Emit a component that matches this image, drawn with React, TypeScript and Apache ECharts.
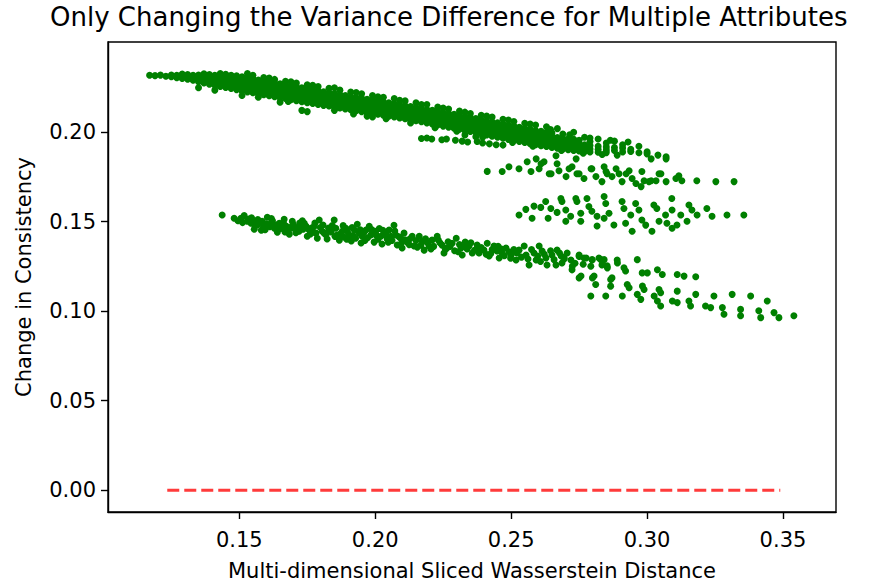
import React, { useEffect, useRef } from "react";
import * as echarts from "echarts";

// ---------- axis / tick values ----------
const xTicks = [0.15, 0.2, 0.25, 0.3, 0.35];
const yTicks = [0, 0.05, 0.1, 0.15, 0.2];
const xExtent = [0.1017, 0.3695];
const yExtent = [-0.0122, 0.2504];

const titleText = "Only Changing the Variance Difference for Multiple Attributes";
const xLabel = "Multi-dimensional Sliced Wasserstein Distance";
const yLabel = "Change in Consistency";

// ---------- upper band (rows: x, y values read at that x) ----------
const upperBandA = [
  [0.117, 0.2318],
  [0.119, 0.2316],
  [0.121, 0.2319],
  [0.123, 0.2313],
  [0.125, 0.231, 0.232],
  [0.127, 0.2304, 0.2318],
  [0.129, 0.23, 0.2314, 0.2325],
  [0.131, 0.2296, 0.231, 0.2322],
  [0.133, 0.229, 0.2305, 0.2318],
  [0.135, 0.2282, 0.23, 0.232, 0.2248],
  [0.137, 0.2275, 0.2295, 0.2312, 0.2326],
  [0.139, 0.2268, 0.2286, 0.2305, 0.2322],
  [0.141, 0.2262, 0.228, 0.23, 0.2318, 0.2235],
  [0.143, 0.2255, 0.2275, 0.2294, 0.2312, 0.2328],
  [0.145, 0.225, 0.227, 0.2288, 0.2306, 0.2324],
  [0.147, 0.2244, 0.2262, 0.2282, 0.23, 0.2318],
  [0.149, 0.2238, 0.2258, 0.2276, 0.2296, 0.2315],
  [0.151, 0.223, 0.225, 0.227, 0.229, 0.231, 0.2205],
  [0.153, 0.2225, 0.2245, 0.2265, 0.2284, 0.2304],
  [0.155, 0.222, 0.224, 0.2258, 0.2278, 0.2298, 0.2318],
  [0.157, 0.2215, 0.2234, 0.2252, 0.2272, 0.2292],
  [0.159, 0.221, 0.2228, 0.2248, 0.2266, 0.2286, 0.2306],
  [0.161, 0.2204, 0.2222, 0.2242, 0.226, 0.228],
  [0.163, 0.2198, 0.2218, 0.2236, 0.2256, 0.2275, 0.2295],
  [0.165, 0.2192, 0.2212, 0.223, 0.225, 0.227, 0.2168],
];

const upperBandB = [
  [0.167, 0.2188, 0.2206, 0.2226, 0.2245, 0.2265, 0.2285],
  [0.169, 0.2182, 0.22, 0.222, 0.224, 0.226],
  [0.171, 0.2176, 0.2195, 0.2215, 0.2234, 0.2254, 0.2275],
  [0.173, 0.217, 0.219, 0.2208, 0.2228, 0.2248, 0.2122],
  [0.175, 0.2165, 0.2185, 0.2204, 0.2224, 0.2244, 0.2265, 0.2115],
  [0.177, 0.216, 0.218, 0.2198, 0.2218, 0.2238],
  [0.179, 0.2155, 0.2175, 0.2194, 0.2212, 0.2232, 0.2255],
  [0.181, 0.215, 0.217, 0.2188, 0.2206, 0.2226],
  [0.183, 0.2146, 0.2164, 0.2183, 0.2202, 0.2222, 0.2245],
  [0.185, 0.214, 0.2158, 0.2178, 0.2196, 0.2216],
  [0.187, 0.2135, 0.2153, 0.2172, 0.219, 0.221, 0.2235],
  [0.189, 0.213, 0.2148, 0.2166, 0.2185, 0.2205],
  [0.191, 0.2125, 0.2143, 0.2162, 0.218, 0.22, 0.2225],
  [0.193, 0.212, 0.2138, 0.2156, 0.2175, 0.2194],
  [0.195, 0.2115, 0.2133, 0.215, 0.217, 0.219, 0.2215],
  [0.197, 0.211, 0.2128, 0.2146, 0.2165, 0.2184, 0.209],
  [0.199, 0.2105, 0.2122, 0.214, 0.216, 0.218, 0.2205, 0.2085],
  [0.201, 0.21, 0.2118, 0.2136, 0.2155, 0.2175],
  [0.203, 0.2095, 0.2112, 0.213, 0.215, 0.217, 0.2195],
  [0.205, 0.209, 0.2108, 0.2126, 0.2145, 0.2165],
  [0.207, 0.2085, 0.2102, 0.212, 0.214, 0.216, 0.2188],
  [0.209, 0.208, 0.2098, 0.2115, 0.2134, 0.2155],
  [0.211, 0.2075, 0.2092, 0.211, 0.2128, 0.2148, 0.2175],
  [0.213, 0.207, 0.2088, 0.2105, 0.2124, 0.2144],
  [0.215, 0.2064, 0.2082, 0.21, 0.2118, 0.2138, 0.2165],
];

const upperBandC = [
  [0.217, 0.2058, 0.2076, 0.2095, 0.2113, 0.2132],
  [0.219, 0.2052, 0.207, 0.209, 0.2108, 0.2127, 0.2155],
  [0.221, 0.2046, 0.2064, 0.2084, 0.2102, 0.2122],
  [0.223, 0.204, 0.2058, 0.2078, 0.2096, 0.2116, 0.214],
  [0.225, 0.2034, 0.2052, 0.2072, 0.209, 0.211],
  [0.227, 0.2028, 0.2046, 0.2066, 0.2085, 0.2105, 0.213],
  [0.229, 0.2022, 0.204, 0.206, 0.208, 0.21],
  [0.231, 0.2016, 0.2034, 0.2054, 0.2074, 0.2094, 0.2118],
  [0.233, 0.201, 0.2028, 0.2048, 0.2068, 0.2088, 0.1985],
  [0.235, 0.2004, 0.2022, 0.2042, 0.2062, 0.2082, 0.2105],
  [0.237, 0.1998, 0.2016, 0.2036, 0.2056, 0.2076, 0.1975],
  [0.239, 0.1992, 0.201, 0.203, 0.205, 0.207, 0.2095],
  [0.241, 0.1985, 0.2004, 0.2024, 0.2044, 0.2064],
  [0.243, 0.1978, 0.1998, 0.2018, 0.2038, 0.2058, 0.2085],
  [0.245, 0.1972, 0.1992, 0.2012, 0.2032, 0.2052],
  [0.247, 0.1966, 0.1986, 0.2006, 0.2026, 0.2046, 0.2072],
  [0.249, 0.196, 0.198, 0.2, 0.202, 0.204],
  [0.251, 0.1954, 0.1974, 0.1994, 0.2014, 0.2034, 0.206],
  [0.253, 0.1948, 0.1968, 0.1988, 0.2008, 0.2028],
  [0.255, 0.1942, 0.1962, 0.1982, 0.2002, 0.2022, 0.205],
  [0.257, 0.1936, 0.1956, 0.1976, 0.1996, 0.2016],
  [0.259, 0.193, 0.195, 0.197, 0.199, 0.201, 0.204],
  [0.261, 0.1925, 0.1945, 0.1965, 0.1985, 0.2005],
  [0.263, 0.192, 0.194, 0.196, 0.198, 0.2, 0.203],
  [0.265, 0.1915, 0.1935, 0.1955, 0.1975, 0.1995],
];

const upperBandD = [
  [0.267, 0.191, 0.193, 0.195, 0.197, 0.202],
  [0.269, 0.1906, 0.1926, 0.1946, 0.1966, 0.199],
  [0.271, 0.1902, 0.1922, 0.1942, 0.1962],
  [0.273, 0.1898, 0.1918, 0.1938, 0.196, 0.2],
  [0.275, 0.1895, 0.1914, 0.1934, 0.1955],
  [0.277, 0.1892, 0.191, 0.193, 0.1972],
  [0.279, 0.189, 0.1906, 0.1926, 0.1948],
  [0.282, 0.1888, 0.1904, 0.1922, 0.1962],
  [0.285, 0.1886, 0.19, 0.1918, 0.194],
  [0.288, 0.1898, 0.1915, 0.195],
  [0.291, 0.189, 0.1912, 0.193],
  [0.294, 0.1892, 0.1905],
  [0.297, 0.1885, 0.1922],
  [0.3, 0.189, 0.1879],
  [0.3015, 0.1851],
  [0.304, 0.1872],
  [0.307, 0.1863, 0.1851],
];

// scattered points on the ragged edges of the upper band
const upperEdges = [
  [0.153, 0.2328], [0.161, 0.2302], [0.169, 0.2282], [0.177, 0.2262],
  [0.185, 0.2248], [0.193, 0.2222], [0.201, 0.2198], [0.209, 0.2178],
  [0.217, 0.2155], [0.225, 0.2135], [0.233, 0.2112], [0.241, 0.209],
  [0.249, 0.2068], [0.257, 0.2045], [0.2645, 0.2015], [0.2715, 0.1985],
  [0.279, 0.1968], [0.2865, 0.1955], [0.293, 0.1945],
  [0.157, 0.2195], [0.168, 0.2172], [0.185, 0.2122], [0.192, 0.2102],
  [0.204, 0.2075], [0.213, 0.2052], [0.222, 0.2025], [0.23, 0.2005],
  [0.2395, 0.1972], [0.2505, 0.1942], [0.258, 0.1922], [0.2685, 0.1898],
  [0.2765, 0.1882], [0.2835, 0.1875], [0.289, 0.1872],
];

// short branch just under the upper band (~0.196)
const upperBranch = [
  [0.217, 0.1965], [0.219, 0.1968], [0.2208, 0.1962], [0.2245, 0.1958],
  [0.2262, 0.1962], [0.2295, 0.1955], [0.232, 0.195], [0.234, 0.1945],
  [0.2375, 0.1948], [0.2395, 0.194], [0.242, 0.1935], [0.2445, 0.193],
  [0.247, 0.1928],
];

// branch around 0.175
const thirdBranch = [
  [0.2412, 0.1781], [0.2467, 0.178], [0.2492, 0.1807], [0.2529, 0.1796],
  [0.2559, 0.1835], [0.2573, 0.178], [0.2592, 0.1851], [0.261, 0.1824],
  [0.2603, 0.1796], [0.2621, 0.1835], [0.264, 0.1768], [0.2647, 0.1768],
  [0.2665, 0.1868], [0.2669, 0.1824], [0.2676, 0.1785], [0.2702, 0.1752],
  [0.2713, 0.1796], [0.2724, 0.1807], [0.2739, 0.1851], [0.2742, 0.1768],
  [0.275, 0.1768], [0.2768, 0.1741], [0.2794, 0.1796], [0.2797, 0.1796],
  [0.2812, 0.1752], [0.2834, 0.1724], [0.2842, 0.1807], [0.2849, 0.178],
  [0.2853, 0.1768], [0.2871, 0.1752], [0.2886, 0.1796], [0.2897, 0.1768],
  [0.2908, 0.1724], [0.2923, 0.1768], [0.2934, 0.1785], [0.2945, 0.1741],
  [0.2959, 0.1713], [0.2978, 0.1696], [0.2981, 0.178], [0.2989, 0.1729],
  [0.3007, 0.1724], [0.3015, 0.1729], [0.3033, 0.1729], [0.3044, 0.1768],
  [0.3051, 0.1768], [0.307, 0.1724], [0.3106, 0.1741], [0.3117, 0.1757],
  [0.3128, 0.1729], [0.3183, 0.1729], [0.3253, 0.1724], [0.332, 0.1724],
];

// cluster around 0.155
const midCluster = [
  [0.2529, 0.1537], [0.2554, 0.1569], [0.2577, 0.1519], [0.2584, 0.1587],
  [0.2609, 0.158], [0.2627, 0.1613], [0.2636, 0.1519], [0.2646, 0.1574],
  [0.2669, 0.1552], [0.2683, 0.163], [0.2687, 0.1613], [0.2701, 0.1565],
  [0.2701, 0.1502], [0.2719, 0.153], [0.2738, 0.163], [0.2742, 0.1613],
  [0.2756, 0.1547], [0.2756, 0.1502], [0.2779, 0.163], [0.2786, 0.1585],
  [0.2797, 0.1558], [0.2816, 0.153], [0.2816, 0.1476], [0.2842, 0.1641],
  [0.2848, 0.1602], [0.2842, 0.1519], [0.286, 0.1547], [0.2878, 0.1482],
  [0.2908, 0.1613], [0.2915, 0.1574], [0.2921, 0.1491], [0.294, 0.1537],
  [0.2945, 0.1447], [0.2958, 0.1602], [0.297, 0.1565], [0.2981, 0.1509],
  [0.2995, 0.1481], [0.3018, 0.1447], [0.3025, 0.1593], [0.3036, 0.1574],
  [0.3044, 0.1502], [0.3068, 0.1537], [0.3073, 0.1491], [0.3091, 0.163],
  [0.3092, 0.1565], [0.3092, 0.1463], [0.311, 0.1482], [0.3124, 0.1537],
  [0.3147, 0.1502], [0.3154, 0.1593], [0.3165, 0.1565], [0.3184, 0.1537],
  [0.322, 0.1574], [0.3239, 0.153], [0.3294, 0.1537], [0.3356, 0.1537],
];

// lower band (~0.15 down to ~0.12)
const lowerBandA = [
  [0.1437, 0.1537], [0.1481, 0.1519], [0.1506, 0.1519], [0.1518, 0.1534],
  [0.1529, 0.1502], [0.1543, 0.1491], [0.1555, 0.1458], [0.1566, 0.1482],
  [0.1581, 0.1452], [0.1584, 0.1502], [0.1592, 0.1475], [0.1603, 0.1525],
  [0.1616, 0.1491], [0.1629, 0.1463], [0.164, 0.1441], [0.1647, 0.1491],
  [0.1658, 0.1475], [0.1665, 0.1513], [0.1676, 0.1454], [0.1684, 0.143],
  [0.1695, 0.1502], [0.1702, 0.1463], [0.172, 0.1447], [0.1728, 0.1475],
  [0.1739, 0.1491], [0.175, 0.1419], [0.1757, 0.1454], [0.1776, 0.1475],
  [0.1782, 0.1436], [0.1787, 0.1408], [0.1794, 0.1509], [0.1805, 0.1447],
  [0.1819, 0.1426], [0.1823, 0.1403], [0.1831, 0.1454], [0.1849, 0.1509],
  [0.1855, 0.1463], [0.186, 0.1426], [0.1868, 0.1397], [0.1879, 0.1447],
  [0.1892, 0.1463], [0.1904, 0.1426], [0.1912, 0.1392], [0.1923, 0.1454],
  [0.1934, 0.1486], [0.1941, 0.1436], [0.1948, 0.1381], [0.1952, 0.1419],
  [0.1966, 0.1454], [0.1978, 0.1475], [0.1984, 0.1426], [0.1996, 0.1386],
  [0.2002, 0.1447], [0.2021, 0.1419], [0.2025, 0.1375], [0.2033, 0.1436],
  [0.2044, 0.1403], [0.2051, 0.1454], [0.2058, 0.1419], [0.2069, 0.148],
  [0.2076, 0.1426], [0.2081, 0.137], [0.2094, 0.1408], [0.2106, 0.1436],
];

const lowerBandB = [
  [0.2099, 0.1353], [0.2117, 0.1386], [0.2136, 0.1419], [0.2143, 0.1364],
  [0.2162, 0.1419], [0.2173, 0.1392], [0.218, 0.1341], [0.2198, 0.1364],
  [0.2209, 0.1397], [0.2228, 0.1419], [0.2246, 0.1369], [0.2253, 0.1325],
  [0.2264, 0.1353], [0.2283, 0.138], [0.2298, 0.1408], [0.2316, 0.1353],
  [0.232, 0.1314], [0.2331, 0.1386], [0.2345, 0.1364], [0.2357, 0.1325],
  [0.2375, 0.1369], [0.2382, 0.1325], [0.24, 0.1341], [0.2412, 0.138],
  [0.2419, 0.1308], [0.2437, 0.1364], [0.2448, 0.1336], [0.2456, 0.1297],
  [0.2467, 0.1325], [0.2481, 0.1353], [0.25, 0.1314], [0.2518, 0.1286],
  [0.2529, 0.1341], [0.2548, 0.1364], [0.2555, 0.1314], [0.2566, 0.1258],
  [0.2584, 0.1325], [0.2592, 0.1286], [0.2603, 0.1364], [0.2614, 0.1336],
  [0.2628, 0.1297], [0.2632, 0.1258], [0.265, 0.1314], [0.2665, 0.1258],
  [0.2669, 0.1341], [0.2684, 0.1308], [0.2687, 0.1269], [0.2706, 0.1325],
  [0.272, 0.1286], [0.2724, 0.1231], [0.275, 0.1314], [0.2757, 0.1197],
  [0.2776, 0.1297], [0.2798, 0.1286], [0.2805, 0.1197], [0.2823, 0.1297],
  [0.2834, 0.1258], [0.2853, 0.1253], [0.2871, 0.1186], [0.289, 0.1286],
];

// additional points in the dense part of the lower band
const lowerBandFill = [
  [0.1495, 0.1505], [0.1512, 0.1495], [0.1535, 0.1515], [0.155, 0.1505],
  [0.1558, 0.1478], [0.1575, 0.1495], [0.1588, 0.1468], [0.1598, 0.1488],
  [0.1612, 0.1472], [0.1622, 0.1505], [0.1635, 0.1482], [0.1652, 0.1462],
  [0.1662, 0.1495], [0.1672, 0.1476], [0.1688, 0.1462], [0.1698, 0.1485],
  [0.1712, 0.1468], [0.1722, 0.1492], [0.1735, 0.1458], [0.1745, 0.1476],
  [0.1765, 0.1465], [0.1772, 0.1442], [0.1798, 0.1468], [0.1812, 0.1436],
  [0.1838, 0.1442], [0.1842, 0.1478], [0.1872, 0.1432], [0.1885, 0.1415],
  [0.1898, 0.1445], [0.1918, 0.1422], [0.1928, 0.1408], [0.1958, 0.1438],
  [0.1972, 0.141], [0.199, 0.1438], [0.201, 0.1402], [0.2015, 0.1462],
  [0.204, 0.1425], [0.2062, 0.1395], [0.2088, 0.1415], [0.2112, 0.1398],
  [0.2125, 0.1372], [0.215, 0.1395], [0.2168, 0.1368], [0.219, 0.1385],
  [0.2215, 0.1362], [0.2238, 0.1382], [0.2258, 0.1345], [0.2275, 0.1362],
  [0.2292, 0.1338], [0.231, 0.1372], [0.2338, 0.1348], [0.2365, 0.134],
  [0.239, 0.1355], [0.2408, 0.1318], [0.243, 0.1345], [0.2462, 0.1348],
  [0.2475, 0.131], [0.2492, 0.1332], [0.251, 0.1345], [0.2538, 0.1302],
  [0.2575, 0.1345], [0.2598, 0.1308], [0.2622, 0.1318], [0.2658, 0.1288],
  [0.2695, 0.1292], [0.2735, 0.1268], [0.2765, 0.1262],
];

const lowerBandFill2 = [
  [0.1545, 0.1522], [0.1568, 0.1512], [0.1595, 0.1455], [0.1618, 0.1518],
  [0.1645, 0.1472], [0.1668, 0.1442], [0.1692, 0.1472], [0.1708, 0.1438],
  [0.1732, 0.1505], [0.1762, 0.1432], [0.1778, 0.1492], [0.1808, 0.1482],
  [0.1828, 0.1465], [0.1852, 0.1418], [0.1882, 0.1478], [0.1895, 0.1402],
  [0.1915, 0.1468], [0.1945, 0.1455], [0.1962, 0.1395], [0.1988, 0.1455],
  [0.2005, 0.1422], [0.2028, 0.1452], [0.2048, 0.1385], [0.2072, 0.1448],
  [0.2098, 0.1385], [0.2128, 0.1405], [0.2155, 0.1358], [0.2185, 0.1405],
  [0.2205, 0.1348], [0.2232, 0.1398], [0.2268, 0.1388], [0.2305, 0.1332],
  [0.2328, 0.1362], [0.2352, 0.1382], [0.2385, 0.1342], [0.2425, 0.1322],
  [0.2452, 0.1362], [0.2498, 0.1296], [0.2522, 0.1325], [0.2562, 0.1292],
  [0.2608, 0.1278], [0.2645, 0.1338], [0.2678, 0.1325],
];

// lower band tail, splitting into three rows
const lowerTail = [
  [0.2695, 0.1297], [0.275, 0.1306], [0.2768, 0.1297], [0.2793, 0.1251],
  [0.2798, 0.1288], [0.283, 0.1288], [0.2842, 0.1288], [0.2854, 0.1242],
  [0.2891, 0.1269], [0.2915, 0.1242], [0.2921, 0.1225], [0.2964, 0.1288],
  [0.2982, 0.1214], [0.3001, 0.1214], [0.3038, 0.1232], [0.3056, 0.1205],
  [0.3111, 0.1205], [0.3136, 0.1196], [0.3179, 0.1192],
  [0.2725, 0.1251], [0.275, 0.1186], [0.2799, 0.1186], [0.2811, 0.1149],
  [0.2866, 0.1177], [0.2866, 0.114], [0.2927, 0.1149], [0.2934, 0.1131],
  [0.2983, 0.114], [0.2989, 0.1121], [0.3044, 0.1121], [0.305, 0.1103],
  [0.3111, 0.1112], [0.3179, 0.1094], [0.3246, 0.1085], [0.3313, 0.1094],
  [0.3381, 0.1085], [0.3442, 0.1057],
  [0.2793, 0.1085], [0.2848, 0.1085], [0.2909, 0.1085], [0.2964, 0.1094],
  [0.2977, 0.1066], [0.3026, 0.1085], [0.3038, 0.1057], [0.305, 0.1029],
  [0.3093, 0.1057], [0.3111, 0.1048], [0.3154, 0.1057], [0.316, 0.1029],
  [0.3215, 0.1029], [0.3234, 0.102], [0.3277, 0.102], [0.3283, 0.0983],
  [0.3344, 0.101], [0.3344, 0.0974], [0.3411, 0.1002], [0.3418, 0.0964],
  [0.3467, 0.0992], [0.3485, 0.0964], [0.354, 0.0974],
];

// red dashed reference line at zero
const zeroLineX = [0.1235, 0.349];
const zeroLineY = [0, 0];

const FONT = "DejaVu Sans";

function rowsToPoints(rows: number[][]): number[][] {
  const out: number[][] = [];
  rows.forEach((r) => {
    for (let i = 1; i < r.length; i++) out.push([r[0], r[i]]);
  });
  return out;
}

export default function App() {
  const ref = useRef<HTMLDivElement>(null);

  useEffect(() => {
    if (!ref.current) return;
    const chart = echarts.init(ref.current, null, { renderer: "svg" });
    const points = [
      ...rowsToPoints(upperBandA),
      ...rowsToPoints(upperBandB),
      ...rowsToPoints(upperBandC),
      ...rowsToPoints(upperBandD),
      ...upperEdges,
      ...upperBranch,
      ...thirdBranch,
      ...midCluster,
      ...lowerBandA,
      ...lowerBandB,
      ...lowerBandFill,
      ...lowerBandFill2,
      ...lowerTail,
    ];
    chart.setOption({
      animation: false,
      backgroundColor: "#ffffff",
      title: {
        text: titleText,
        left: 50,
        top: 4,
        padding: 0,
        textStyle: { fontFamily: FONT, fontSize: 26, fontWeight: "normal", color: "#000" },
      },
      grid: {
        left: 108,
        top: 42,
        width: 728,
        height: 474,
        show: true,
        borderColor: "#000",
        borderWidth: 1.4,
        backgroundColor: "transparent",
      },
      xAxis: {
        type: "value",
        min: xExtent[0],
        max: xExtent[1],
        name: xLabel,
        nameLocation: "middle",
        nameGap: 48,
        nameTextStyle: { fontFamily: FONT, fontSize: 21, color: "#000" },
        axisLine: { show: true, onZero: false, lineStyle: { color: "#000", width: 1.4 } },
        axisTick: { show: true, inside: false, length: 7, lineStyle: { color: "#000", width: 1.4 }, customValues: xTicks },
        axisLabel: {
          fontFamily: FONT,
          fontSize: 21,
          color: "#000",
          margin: 17,
          customValues: xTicks,
          formatter: (v: number) => v.toFixed(2),
        },
        splitLine: { show: false },
      },
      yAxis: {
        type: "value",
        min: yExtent[0],
        max: yExtent[1],
        name: yLabel,
        nameLocation: "middle",
        nameGap: 74,
        nameTextStyle: { fontFamily: FONT, fontSize: 21, color: "#000" },
        axisLine: { show: true, onZero: false, lineStyle: { color: "#000", width: 1.4 } },
        axisTick: { show: true, inside: false, length: 7, lineStyle: { color: "#000", width: 1.4 }, customValues: yTicks },
        axisLabel: {
          fontFamily: FONT,
          fontSize: 21,
          color: "#000",
          margin: 12,
          customValues: yTicks,
          formatter: (v: number) => v.toFixed(2),
        },
        splitLine: { show: false },
      },
      series: [
        {
          type: "scatter",
          name: "Change in Consistency",
          data: points,
          symbol: "circle",
          symbolSize: 7,
          itemStyle: { color: "#008000", opacity: 1 },
          z: 2,
        },
        {
          type: "line",
          name: "zero",
          data: zeroLineX.map((x, i) => [x, zeroLineY[i]]),
          symbol: "none",
          lineStyle: { color: "#ff3b3b", width: 3, type: [12, 5] },
          z: 3,
        },
      ],
    });
    return () => chart.dispose();
  }, []);

  return (
    <div
      ref={ref}
      style={{ position: "absolute", left: 0, top: 0, width: 877, height: 586 }}
    />
  );
}
